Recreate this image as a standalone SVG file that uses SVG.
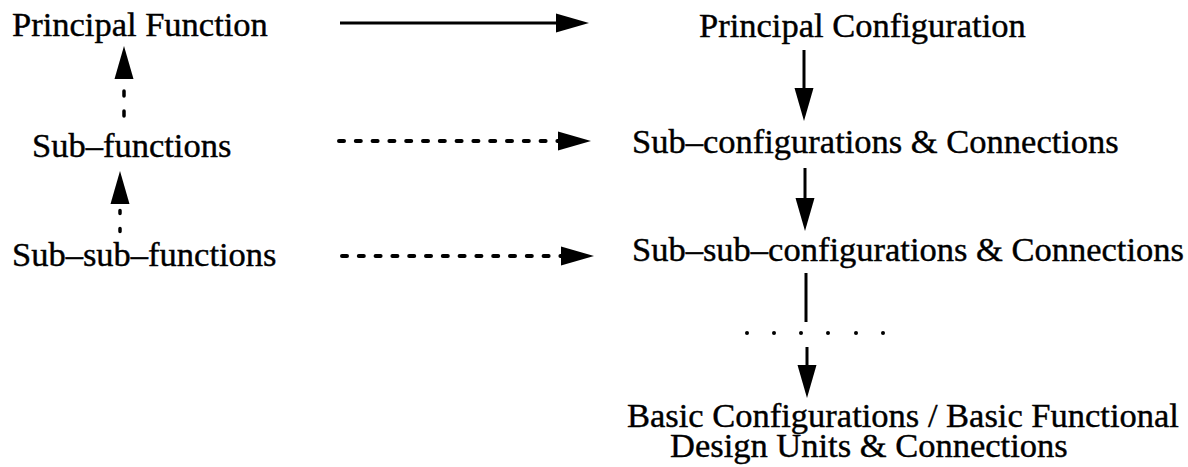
<svg xmlns="http://www.w3.org/2000/svg" width="1188" height="467" viewBox="0 0 1188 467">
  <style>
    .label { font-family: "Liberation Serif", "Times New Roman", serif; font-size: 34.5px; fill: #000; stroke: #000; stroke-width: 0.4; }
    .solid { stroke: #000; stroke-width: 3; fill: none; }
    .dashed { stroke: #000; stroke-width: 4; fill: none; stroke-dasharray: 5 11.8; stroke-linecap: round; }
    .dotted { stroke: #000; stroke-width: 3.5; fill: none; stroke-linecap: round; }
    .dot { fill: #000; }
  </style>
  <defs>
    <!-- filled triangular arrowhead; the line stops at the head's base -->
    <marker id="head" viewBox="0 -10 34 20" markerWidth="34" markerHeight="20" refX="0" refY="0" orient="auto" markerUnits="userSpaceOnUse">
      <path d="M0,-9.5 L33,0 L0,9.5 Z" fill="#000"/>
    </marker>
  </defs>
  <rect width="1188" height="467" fill="#fff"/>

  <!-- left column: functions -->
  <g id="principal-function"><text class="label" x="12" y="36">Principal Function</text></g>
  <g id="sub-functions"><text class="label" x="32" y="157">Sub–functions</text></g>
  <g id="sub-sub-functions"><text class="label" x="12" y="266">Sub–sub–functions</text></g>

  <!-- right column: configurations -->
  <g id="principal-configuration"><text class="label" x="699" y="37">Principal Configuration</text></g>
  <g id="sub-configurations"><text class="label" x="632" y="153">Sub–configurations &amp; Connections</text></g>
  <g id="sub-sub-configurations"><text class="label" x="632" y="261">Sub–sub–configurations &amp; Connections</text></g>
  <g id="basic-configurations">
    <text class="label" x="627" y="427">Basic Configurations / Basic Functional</text>
    <text class="label" x="670" y="457">Design Units &amp; Connections</text>
  </g>

  <g id="connectors">
    <!-- function to configuration mappings -->
    <line class="solid" x1="340" y1="23" x2="556" y2="23" marker-end="url(#head)"/>
    <line class="dashed" x1="339" y1="141" x2="558" y2="141" marker-end="url(#head)"/>
    <line class="dashed" x1="342" y1="256" x2="561" y2="256" marker-end="url(#head)"/>

    <!-- upward composition of functions -->
    <line class="dotted" x1="124" y1="116" x2="124" y2="79" stroke-dasharray="5 15" marker-end="url(#head)"/>
    <line class="dotted" x1="120" y1="231.5" x2="120" y2="204" stroke-dasharray="3 15" marker-end="url(#head)"/>

    <!-- downward decomposition of configurations -->
    <line class="solid" x1="804" y1="50" x2="804" y2="88" marker-end="url(#head)"/>
    <line class="solid" x1="805" y1="168" x2="805" y2="198" marker-end="url(#head)"/>
    <line class="solid" x1="806" y1="273" x2="806" y2="322"/>
    <g id="ellipsis">
      <circle class="dot" cx="747" cy="333" r="2"/>
      <circle class="dot" cx="774" cy="333" r="2"/>
      <circle class="dot" cx="801" cy="333" r="2"/>
      <circle class="dot" cx="828" cy="333" r="2"/>
      <circle class="dot" cx="856" cy="333" r="2"/>
      <circle class="dot" cx="883" cy="333" r="2"/>
    </g>
    <line class="solid" x1="807" y1="347" x2="807" y2="365" marker-end="url(#head)"/>
  </g>
</svg>
